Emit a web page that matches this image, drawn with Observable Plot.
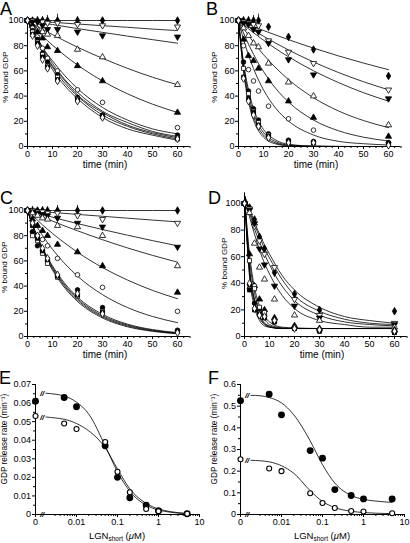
<!DOCTYPE html>
<html><head><meta charset="utf-8">
<script src="https://cdn.jsdelivr.net/npm/d3@7"></script>
<script src="https://cdn.jsdelivr.net/npm/@observablehq/plot@0.6"></script>
<style>
body{margin:0;background:#fff;}
#wrap{position:relative;width:410px;height:543px;overflow:hidden;font-family:"Liberation Sans",Arial,Helvetica,sans-serif;color:#000;}
.letter{position:absolute;font-size:18px;line-height:1;}
.xlab{position:absolute;font-size:9.5px;line-height:1;white-space:nowrap;transform:translateX(-50%);}
.xlab sub{font-size:6.5px;vertical-align:-2px;line-height:0;}
</style></head><body><div id="wrap"></div>
<script>
// ---------- data ----------
const times = [0,2,4,6,8,12,20,30,60];
const fitTimes = [0,2,4,6,8,10,15,20,30,40,50,60];
const timeTicks = [0,10,20,30,40,50,60];
const pctTicks = [0,20,40,60,80,100];
// series order: filled diamond, open down-triangle, filled down-triangle, open up-triangle,
// filled up-triangle, open circle, filled circle, open square, filled square, open diamond
const pointsA = [
 [100,100,100,100,100,100,100,100,100],
 [100,100,99,99,98,98,97,96,95],
 [100,99,99,96,93,93,91,88,87],
 [100,96,93,91,89,88,77,71,49],
 [100,96,91,86,79,76,64,52,27],
 [100,94,87,78,70,60,45,35,15],
 [100,92,85,74,67,57,39,25,9],
 [100,91,83,73,64,55,38,24,7],
 [100,89,82,71,63,53,37,24,6],
 [100,88,80,69,62,52,36,23,6]
];
const errTopA = [0,2,3,3,4,5,3,2,0];
const fitsA = [
 [100,100,100,100,100,100,100,100,100,100,100,100],
 [100,99.7,99.4,99.2,98.9,98.6,97.9,97.2,95.9,94.6,93.2,92],
 [100,99.3,98.7,98,97.4,96.8,95.2,93.6,90.6,87.6,84.8,82],
 [100,97.6,95.3,93,90.9,88.8,83.7,78.8,70,62,55,49],
 [100,95.7,91.6,87.7,84,80.4,72.1,64.7,52,41.8,33.6,27],
 [100,93,86,79,73,68,56,46,31,21,14,10],
 [100,92,85,78,72,66,53,43,28,19,12,8],
 [100,92,84,77,70,64,52,41,27,17,11,7],
 [100,91,83,76,69,63,50,40,25,16,10,6],
 [100,91,82,75,68,61,48,38,23,14,9,5]
];
const pointsB = [
 [100,100,100,100,100,95,87,77,56],
 [100,99,98,97,96,84,75,66,45],
 [100,98,97,93,91,82,69,57,38],
 [100,94,88,82,79,66,51,40,17],
 [100,85,72,68,62,52,36,23,8],
 [100,80,61,52,44,32,22,13,3],
 [100,67,44,30,21,10,5,4,3],
 [100,62,42,28,19,9,4,3,2],
 [100,55,38,27,17,8,4,3,2],
 [100,54,36,25,16,7,3,3,1]
];
const errTopB = [0,3,3,4,5,0,0,0,0];
const fitsB = [
 [100,98.4,96.8,95.2,93.6,92.1,88.4,84.8,78.1,71.9,66.2,61],
 [100,97.4,94.8,92.3,89.9,87.5,81.9,76.6,67.1,58.7,51.4,45],
 [100,96.6,93.4,90.3,87.3,84.4,77.5,71.2,60.1,50.7,42.7,36],
 [100,93.9,88.2,82.7,77.7,72.9,62.3,53.1,38.7,28.2,20.6,15],
 [100,90.1,81.2,73.2,65.9,59.5,45.8,35.3,21,12.5,7.4,4.4],
 [100,85.2,72.6,61.9,52.7,44.9,30.1,20.2,9.1,4.1,2.2,1.2],
 [100,67,44.9,30.1,20.2,13.5,5,1.8,0.3,0.1,0,0],
 [100,64.4,41.5,26.7,17.2,11.1,3.7,1.2,0.2,0,0,0],
 [100,61.9,38.3,23.7,14.7,9.1,2.7,0.8,0.1,0,0,0],
 [100,59.5,35.4,21,12.5,7.4,2,0.6,0,0,0,0]
];
const pointsC = [
 [100,100,100,100,100,100,100,100,100],
 [100,100,99,99,98,98,96,93,90],
 [100,99,98,97,96,94,90,87,71],
 [100,98,96,94,93,88,87,80,56],
 [100,93,88,84,80,73,67,56,35],
 [100,83,80,77,72,62,49,39,20],
 [100,83,72,68,60,48,37,23,5],
 [100,80,76,66,58,47,32,20,4],
 [100,88,78,68,61,48,33,19,4],
 [100,90,80,70,62,49,34,18,3]
];
const errTopC = [0,3,2,3,3,4,4,0,0];
const fitsC = [
 [100,100,100,100,100,100,100,100,100,100,100,100],
 [100,99.7,99.4,99.1,98.8,98.4,97.7,96.9,95.4,93.9,92.4,91],
 [100,98.9,97.8,96.8,95.7,94.7,92.1,89.6,84.9,80.4,76.1,72],
 [100,98.3,96.5,94.9,93.2,91.6,87.6,83.9,76.8,70.3,64.4,59],
 [100,96,92.3,88.6,85.1,81.8,74,66.9,54.7,44.8,36.6,30],
 [100,92.9,86.3,80.2,74.5,69.2,57.6,47.9,33.2,23,15.9,11],
 [100,89,79.3,70.6,62.9,56,41.9,31.3,17.6,9.8,5.5,3.1],
 [100,88.7,78.7,69.8,61.9,54.9,40.7,30.1,16.5,9.1,5,2.7],
 [100,88.3,78,68.9,60.9,53.8,39.5,29,15.6,8.4,4.5,2.4],
 [100,88,77.4,68.1,59.9,52.7,38.3,27.8,14.7,7.7,4.1,2.2]
];
const pointsD = [
 [100,97,88,75,66,48,32,20,19],
 [100,96,83,72,62,52,28,16,10],
 [100,95,85,66,54,38,23,14,9],
 [100,93,70,52,43,28,16,12,7],
 [100,62,38,28,20,14,8,6,5],
 [100,36,38,18,16,12,6,4,3],
 [100,39,25,21,15,11,7,5,3],
 [100,57,36,22,18,12,7,5,4],
 [100,35,20,17,14,11,6,4,3],
 [100,40,21,16,15,12,6,5,4]
];
const errTopD = [0,0,0,0,0,0,0,0,0];
const fitsD = [
 [106,96,86,77,69,62,46,35,22,15,12,10],
 [106,95,84,75,66,59,43,31,19,13,10,9],
 [106,93,81,71,62,54,38,27,16,11,9,8],
 [106,90,77,65,55,47,31,21,12,9,7,7],
 [106,62,37,23,15,11,7,6.5,6,6,6,6],
 [106,48,25,14,9,7,6,6,6,6,6,6],
 [106,52,28,16,10,8,6,6,6,6,6,6],
 [106,58,33,20,13,9,6.5,6,6,6,6,6],
 [106,45,22,12,8,7,6,6,6,6,6,6],
 [106,50,27,15,10,7.5,6,6,6,6,6,6]
];
// E / F : GDP release rate vs LGNshort
const conc = [0,0.005,0.01,0.05,0.1,0.2,0.5,1,5];
const concTicks = [0,0.01,0.1,1,10];
const fitConc = [0.0018,0.003,0.005,0.01,0.02,0.05,0.1,0.2,0.5,1,2,5];
const rateE_filled = [0.061,0.063,0.058,0.037,0.020,0.009,0.005,0.002,0.0004];
const rateE_open = [0.053,0.049,0.046,0.039,0.023,0.012,0.003,0.0018,0.0004];
const fitE_filled = [0.0653,0.0648,0.0638,0.0605,0.054,0.037,0.023,0.0125,0.005,0.0024,0.0012,0.0004];
const fitE_open = [0.0525,0.052,0.0513,0.049,0.045,0.036,0.0245,0.0138,0.006,0.003,0.0015,0.0006];
const rateTicksE = [0,0.01,0.02,0.03,0.04,0.05,0.06,0.07];
const rateF_filled = [0.525,0.555,0.46,0.295,0.26,0.115,0.088,0.072,0.072];
const rateF_open = [0.255,0.212,0.2,0.098,0.053,0.03,0.016,0.014,0.006];
const fitF_filled = [0.55,0.548,0.54,0.515,0.46,0.34,0.23,0.145,0.088,0.07,0.062,0.056];
const fitF_open = [0.25,0.248,0.243,0.225,0.19,0.11,0.06,0.032,0.015,0.009,0.006,0.004];
const rateTicksF = [0,0.1,0.2,0.3,0.4,0.5,0.6];

// ---------- drawing ----------
const wrap = document.getElementById("wrap");
const FONT = '"Liberation Sans", Arial, Helvetica, sans-serif';
const specs = [
 {symbol:"diamond", fill:"black"},
 {symbol:"triangle", fill:"white", rotate:180},
 {symbol:"triangle", fill:"black", rotate:180},
 {symbol:"triangle", fill:"white"},
 {symbol:"triangle", fill:"black"},
 {symbol:"circle", fill:"white"},
 {symbol:"circle", fill:"black"},
 {symbol:"square", fill:"white"},
 {symbol:"square", fill:"black"},
 {symbol:"diamond", fill:"white"}
];
function place(node, left, top){
  node.style.position = "absolute"; node.style.left = left+"px"; node.style.top = top+"px";
  wrap.appendChild(node);
}
function kinetic(c){
  const xmax = 65;
  const minorX = d3.range(0, xmax+0.01, 2.5).filter(d => d % 10 !== 0);
  const minorY = d3.range(10, 100, 20);
  const marks = [
    Plot.ruleY([0], {x1:0, x2:xmax, stroke:"black", strokeWidth:1}),
    Plot.ruleX([0], {y1:0, y2:c.ymax, stroke:"black", strokeWidth:1}),
    Plot.axisX({ticks:timeTicks, tickSize:3, tickPadding:1.5, fontSize:9, label:null}),
    Plot.axisX({ticks:minorX, tickSize:2, tickFormat:()=>"", label:null}),
    Plot.axisY({ticks:pctTicks, tickSize:3, tickPadding:1, fontSize:9, label:null}),
    Plot.axisY({ticks:minorY, tickSize:2, tickFormat:()=>"", label:null})
  ];
  // error bars of the top series
  marks.push(Plot.ruleX(times.map((t,j)=>({t, lo:c.pts[0][j]-c.err[j], hi:c.pts[0][j]+c.err[j]})).filter(d=>d.hi>d.lo),
    {x:"t", y1:"lo", y2:"hi", stroke:"black", strokeWidth:0.8}));
  c.fits.forEach(f => marks.push(Plot.line(fitTimes.map((t,j)=>({t, v:f[j]})),
    {x:"t", y:"v", curve:"monotone-x", stroke:"black", strokeWidth:0.8})));
  c.pts.forEach((p,i) => { const s = specs[i];
    marks.push(Plot.dot(times.map((t,j)=>({t, v:p[j]})),
      {x:"t", y:"v", symbol:s.symbol, fill:s.fill, stroke:"black", strokeWidth:0.8, r:2.3, rotate:s.rotate||0}));
  });
  marks.push(Plot.text(["time (min)"], {x:31, y:0, dy:18, fontSize:10, text:d=>d}));
  marks.push(Plot.text(["% bound GDP"], {frameAnchor:"left", y:55, dx:c.ylabDx, rotate:-90, textAnchor:"middle", fontSize:8, text:d=>d}));
  const svg = Plot.plot({
    width:c.w, height:c.h,
    marginLeft:c.x0 - c.left, marginRight:c.left + c.w - (c.x0 + xmax*2.5),
    marginTop:c.y0 - c.ymax*c.ppu - c.top, marginBottom:c.top + c.h - c.y0,
    x:{domain:[0,xmax], axis:null}, y:{domain:[0,c.ymax], axis:null},
    style:{fontFamily:FONT, fontSize:"9px", color:"black", background:"transparent", overflow:"visible"},
    marks
  });
  place(svg, c.left, c.top);
}
kinetic({left:0, top:0, w:205, h:172, x0:27, y0:146, ppu:1.26, ymax:102, pts:pointsA, fits:fitsA, err:errTopA, ylabDx:-22});
kinetic({left:205, top:0, w:205, h:172, x0:238, y0:146, ppu:1.26, ymax:102, pts:pointsB, fits:fitsB, err:errTopB, ylabDx:-24});
kinetic({left:0, top:190, w:205, h:172, x0:27, y0:336, ppu:1.26, ymax:102, pts:pointsC, fits:fitsC, err:errTopC, ylabDx:-23});
kinetic({left:205, top:190, w:205, h:172, x0:244, y0:336, ppu:1.33, ymax:108, pts:pointsD, fits:fitsD, err:errTopD, ylabDx:-20});

function dose(c){
  const pos = v => v === 0 ? 0.001 : v;   // "0" sits at the axis origin
  const minorX = [];
  [0.001,0.01,0.1,1].forEach(dec => [2,3,4,5,6,7,8,9].forEach(m => { if (!(dec===0.001 && m<3)) minorX.push(dec*m); }));
  const marks = [
    Plot.ruleY([0], {x1:0.001, x2:10, stroke:"black", strokeWidth:1}),
    Plot.ruleX([0.001], {y1:0, y2:c.ymax, stroke:"black", strokeWidth:1}),
    Plot.axisX({ticks:concTicks.map(pos), tickSize:3, tickPadding:1.5, fontSize:9, label:null,
      tickFormat:d => d === 0.001 ? "0" : String(d)}),
    Plot.axisX({ticks:minorX, tickSize:2, tickFormat:()=>"", label:null}),
    Plot.axisY({ticks:c.yTicks, tickSize:3, tickPadding:1.5, fontSize:9, label:null,
      tickFormat:d => d === 0 ? "0" : d3.format(c.fmt)(d)}),
    Plot.axisY({ticks:c.minorY, tickSize:2, tickFormat:()=>"", label:null})
  ];
  [c.fitFilled, c.fitOpen].forEach(f => marks.push(Plot.line(fitConc.map((x,j)=>({x, v:f[j]})),
    {x:"x", y:"v", curve:"monotone-x", stroke:"black", strokeWidth:0.8})));
  marks.push(Plot.text([0, c.fitFilled[0], c.fitOpen[0]], {x:0.00145, y:d=>d, text:()=>"//", fontSize:8, fontWeight:"bold", fontStyle:"italic"}));
  marks.push(Plot.dot(conc.map((x,j)=>({x:pos(x), v:c.filled[j]})), {x:"x", y:"v", r:2.7, fill:"black", stroke:"black"}));
  marks.push(Plot.dot(conc.map((x,j)=>({x:pos(x), v:c.open[j]})), {x:"x", y:"v", r:2.5, fill:"white", stroke:"black", strokeWidth:1.1}));
  marks.push(Plot.text(["GDP release rate (min⁻¹)"], {frameAnchor:"left", y:c.ymax*0.58, dx:c.ylabDx, rotate:-90, textAnchor:"middle", fontSize:8.3, text:d=>d}));
  const x1 = c.x0 + 4*41;
  const svg = Plot.plot({
    width:c.w, height:c.h,
    marginLeft:c.x0 - c.left, marginRight:c.left + c.w - x1,
    marginTop:384 - c.top, marginBottom:c.top + c.h - 514,
    x:{type:"log", domain:[0.001,10], axis:null}, y:{domain:[0,c.ymax], axis:null},
    style:{fontFamily:FONT, fontSize:"9px", color:"black", background:"transparent", overflow:"visible"},
    marks
  });
  place(svg, c.left, c.top);
  const lab = document.createElement("div");
  lab.className = "xlab";
  lab.innerHTML = 'LGN<sub>short</sub> (<i>μ</i>M)';
  place(lab, c.x0 + 2*41, 531);
}
dose({left:0, top:370, w:205, h:173, x0:35, ymax:0.07, yTicks:rateTicksE, minorY:d3.range(0.005,0.07,0.01), fmt:".2f",
  filled:rateE_filled, open:rateE_open, fitFilled:fitE_filled, fitOpen:fitE_open, ylabDx:-31});
dose({left:205, top:370, w:205, h:173, x0:240, ymax:0.6, yTicks:rateTicksF, minorY:d3.range(0.05,0.6,0.1), fmt:".1f",
  filled:rateF_filled, open:rateF_open, fitFilled:fitF_filled, fitOpen:fitF_open, ylabDx:-26});

[["A",0,0],["B",206,0],["C",0,189],["D",208,189],["E",-1,369],["F",208,369]].forEach(([t,l,tp]) => {
  const d = document.createElement("div"); d.className = "letter"; d.textContent = t; place(d, l, tp);
});
</script></body></html>
